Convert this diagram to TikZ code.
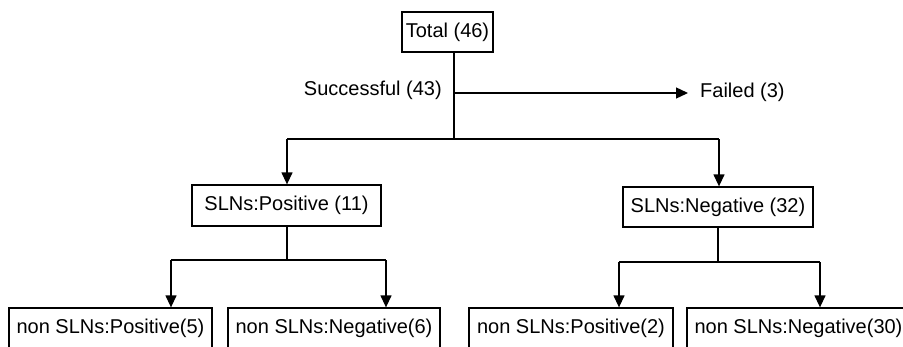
\documentclass[tikz,border=0pt]{standalone}
\usepackage{fontspec}
\setmainfont{Liberation Sans}
\usetikzlibrary{arrows.meta}
\begin{document}
\begin{tikzpicture}[x=1pt,y=-1pt,
  box/.style={draw, line width=1.3pt, inner sep=0pt, font=\fontsize{20}{23}\selectfont},
  lbl/.style={inner sep=0pt, font=\fontsize{20}{23}\selectfont},
  conn/.style={line width=1.3pt},
  arr/.style={conn, -{Triangle[length=12pt,width=11pt]}}]
\useasboundingbox (0,0) rectangle (903,346);
\clip (0,0) rectangle (903,346);
% boxes
\node[box, minimum width=91pt, minimum height=40pt] (total) at (447.5,32) {Total (46)};
\node[box, minimum width=189pt, minimum height=41pt] (spos) at (286.5,205.5) {SLNs:Positive (11)};
\node[box, minimum width=190pt, minimum height=40pt] (sneg) at (718,207) {SLNs:Negative (32)};
\node[box, minimum width=203pt, minimum height=41pt] (n1) at (110.5,328.5) {non SLNs:Positive(5)};
\node[box, minimum width=212pt, minimum height=41pt] (n2) at (334,328.5) {non SLNs:Negative(6)};
\node[box, minimum width=204pt, minimum height=41pt] (n3) at (571,328.5) {non SLNs:Positive(2)};
\node[box, minimum width=223pt, minimum height=41pt] (n4) at (798.5,328.5) {non SLNs:Negative(30)};
% labels
\node[lbl, anchor=east] (succ) at (442,90) {Successful (43)};
\node[lbl, anchor=west] (failed) at (700,92) {Failed (3)};
% trunk
\coordinate (trunk) at (454,139);
\coordinate (fs) at (454,93);
\draw[conn] (trunk |- total.south) -- (trunk);
\draw[arr] (fs) -- ([xshift=-12pt]failed.west |- fs);
% main branch
\coordinate (bl) at (287,139);
\coordinate (br) at (719,139);
\draw[conn] (bl) -- (br);
\draw[arr] (bl) -- (bl |- spos.north);
\draw[arr] (br) -- (br |- sneg.north);
% left sub-branch
\coordinate (lm) at (287,260);
\coordinate (l1) at (171,260);
\coordinate (l2) at (386,260);
\draw[conn] (lm |- spos.south) -- (lm);
\draw[conn] (l1) -- (l2);
\draw[arr] (l1) -- (l1 |- n1.north);
\draw[arr] (l2) -- (l2 |- n2.north);
% right sub-branch
\coordinate (rm) at (718,262);
\coordinate (r1) at (619,262);
\coordinate (r2) at (820,262);
\draw[conn] (rm |- sneg.south) -- (rm);
\draw[conn] (r1) -- (r2);
\draw[arr] (r1) -- (r1 |- n3.north);
\draw[arr] (r2) -- (r2 |- n4.north);
\end{tikzpicture}
\end{document}
